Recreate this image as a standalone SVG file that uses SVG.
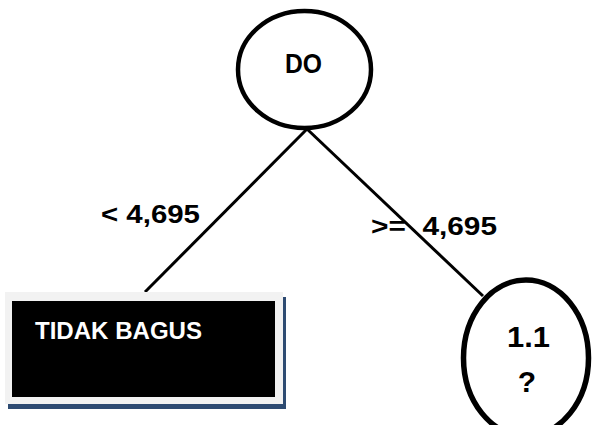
<svg xmlns="http://www.w3.org/2000/svg" width="593" height="425" viewBox="0 0 593 425">
  <style>
    .lbl { font-family: "Liberation Sans", Arial, sans-serif; font-weight: bold; fill: #000; }
    .node { fill: #fff; stroke: #000; }
    .edge { stroke: #000; stroke-width: 3; fill: none; }
  </style>
  <rect width="593" height="425" fill="#fff"/>

  <!-- branches -->
  <g id="connectors">
    <line class="edge" x1="307" y1="129" x2="145" y2="292"/>
    <line class="edge" x1="307" y1="129" x2="483" y2="296"/>
  </g>

  <!-- branch labels -->
  <g id="edge-labels">
    <text class="lbl" x="101" y="223" font-size="26" textLength="99" lengthAdjust="spacingAndGlyphs">&lt; 4,695</text>
    <text class="lbl" x="371" y="235" font-size="26" xml:space="preserve" textLength="126" lengthAdjust="spacingAndGlyphs">&gt;=  4,695</text>
  </g>

  <!-- root split -->
  <g id="node-do">
    <ellipse class="node" cx="304.5" cy="69.5" rx="66.5" ry="58.5" stroke-width="4.5"/>
    <text class="lbl" x="285" y="73" font-size="28" textLength="37" lengthAdjust="spacingAndGlyphs">DO</text>
  </g>

  <!-- leaf -->
  <g id="node-tidak-bagus">
    <rect x="8" y="297" width="278" height="112" fill="#2e4b72"/>
    <rect x="5" y="292" width="278" height="112" fill="#f2f2f2"/>
    <rect x="12" y="301" width="263" height="96" fill="#000"/>
    <text x="35" y="339" font-family="Liberation Sans, Arial, sans-serif" font-weight="bold" font-size="24" fill="#fff" textLength="167" lengthAdjust="spacingAndGlyphs">TIDAK BAGUS</text>
  </g>

  <!-- pending split -->
  <g id="node-1-1">
    <ellipse class="node" cx="526" cy="358" rx="62.5" ry="78" stroke-width="5.5"/>
    <text class="lbl" x="528.5" y="347" font-size="30" text-anchor="middle" textLength="43" lengthAdjust="spacingAndGlyphs">1.1</text>
    <text class="lbl" x="527" y="392" font-size="30" text-anchor="middle">?</text>
  </g>
</svg>
